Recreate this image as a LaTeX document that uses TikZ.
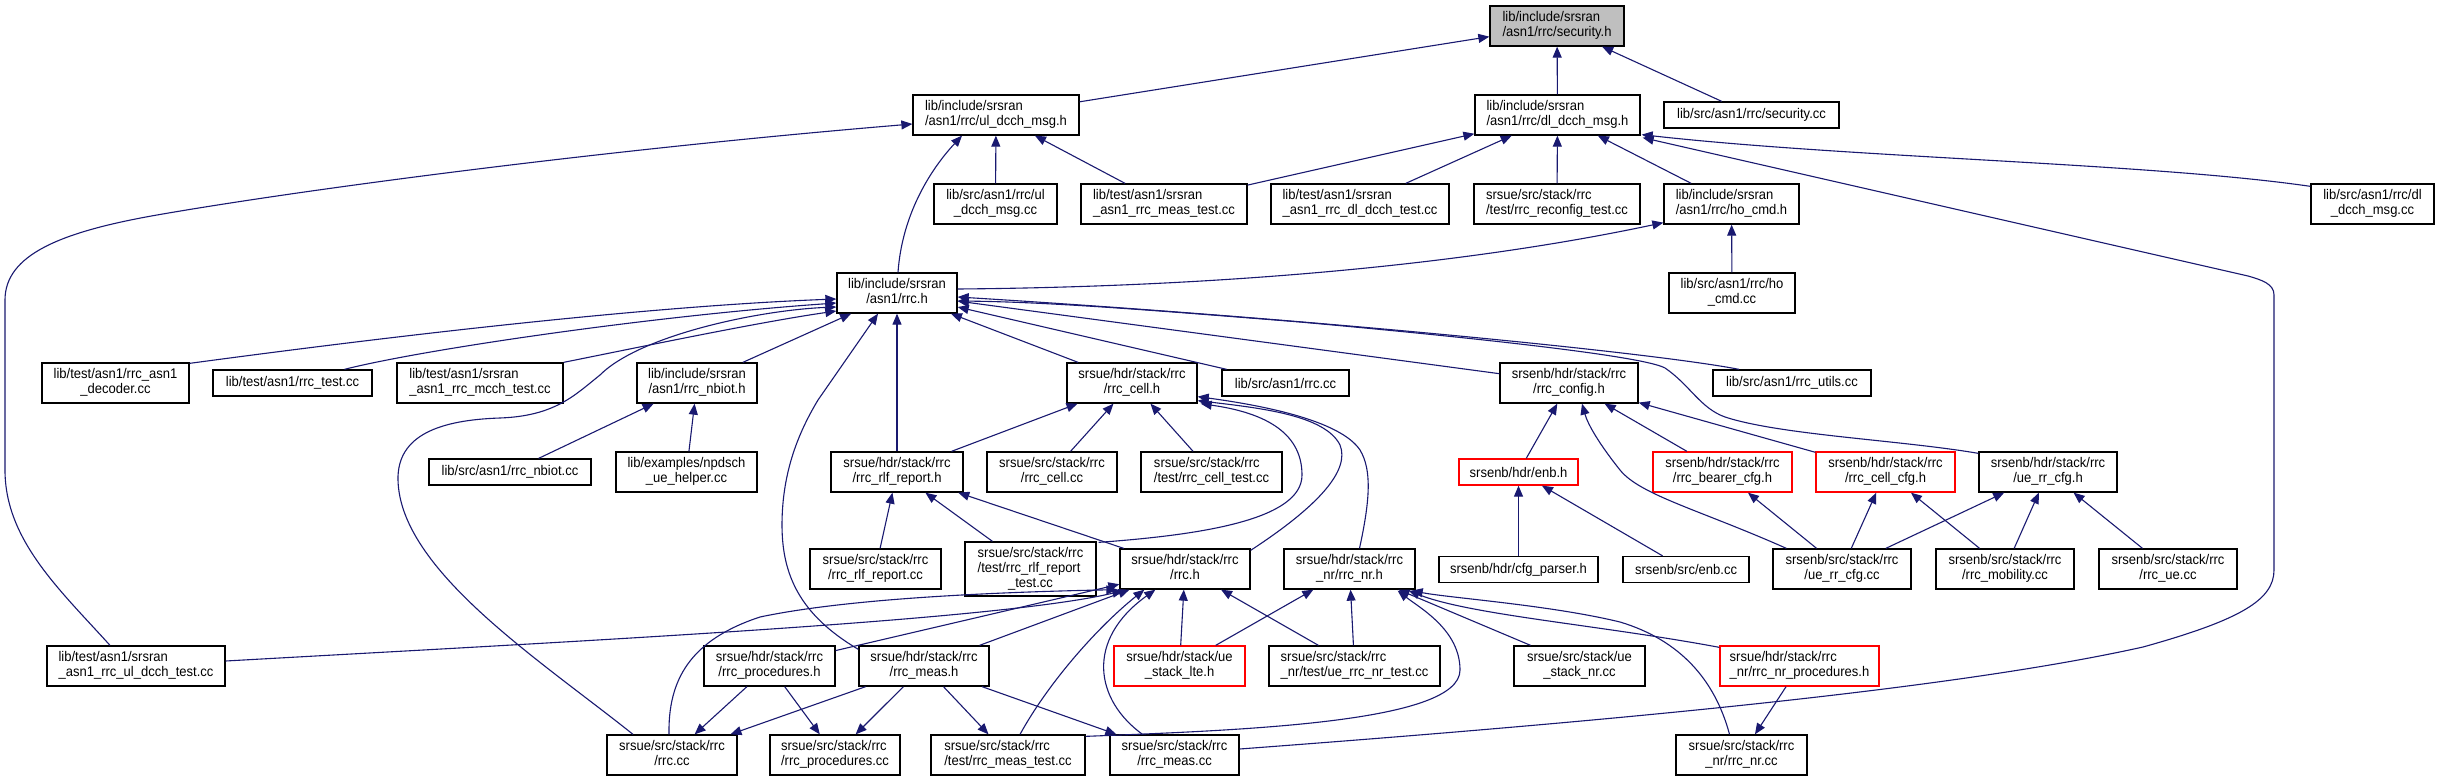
\documentclass[tikz,border=0pt]{standalone}
\usepackage{fontspec}
\setmainfont[FakeStretch=0.93]{Liberation Sans}
\usetikzlibrary{arrows.meta,calc}
\definecolor{edgec}{HTML}{191970}
\definecolor{nodegray}{HTML}{BFBFBF}
\newlength\twa
\newlength\twb
\newcommand\TwoL[2]{\settowidth\twa{#1}\settowidth\twb{#2}\ifdim\twb>\twa\twa=\twb\fi\begin{tabular}{@{}l@{}}\makebox[\twa][l]{#1}\\\makebox[\twa][c]{#2}\end{tabular}}
\newcommand\ThreeL[3]{\settowidth\twa{#1}\settowidth\twb{#2}\ifdim\twb>\twa\twa=\twb\fi\settowidth\twb{#3}\ifdim\twb>\twa\twa=\twb\fi\begin{tabular}{@{}l@{}}\makebox[\twa][l]{#1}\\\makebox[\twa][l]{#2}\\\makebox[\twa][c]{#3}\end{tabular}}
\tikzset{
  box/.style={draw=black, line width=1.3pt, fill=white, inner sep=0pt, text=black,
    font=\fontsize{14}{15}\selectfont, minimum height=40pt},
  redbox/.style={box, draw=red},
  edge/.style={draw=edgec, line width=1.1pt, -{Triangle[length=11pt,width=9pt]}}
}
\begin{document}
\begin{tikzpicture}[x=1pt,y=-1pt]
\useasboundingbox (0,0) rectangle (2440,781);
\fill[white] (0,0) rectangle (2440,781);
% nodes
\node[box,minimum width=134pt,fill=nodegray] (sec) at (1557,26) {\TwoL{lib/include/srsran}{/asn1/rrc/security.h}};
\node[box,minimum width=166pt] (uldh) at (996,115) {\TwoL{lib/include/srsran}{/asn1/rrc/ul\_dcch\_msg.h}};
\node[box,minimum width=165pt] (dldh) at (1557.5,115) {\TwoL{lib/include/srsran}{/asn1/rrc/dl\_dcch\_msg.h}};
\node[box,minimum width=175pt,minimum height=26pt] (seccc) at (1751.5,115) {lib/src/asn1/rrc/security.cc};
\node[box,minimum width=123pt] (uldcc) at (995.5,204) {\TwoL{lib/src/asn1/rrc/ul}{\_dcch\_msg.cc}};
\node[box,minimum width=166pt] (libmeas) at (1164,204) {\TwoL{lib/test/asn1/srsran}{\_asn1\_rrc\_meas\_test.cc}};
\node[box,minimum width=178pt] (dltest) at (1360,204) {\TwoL{lib/test/asn1/srsran}{\_asn1\_rrc\_dl\_dcch\_test.cc}};
\node[box,minimum width=166pt] (reconf) at (1557,204) {\TwoL{srsue/src/stack/rrc}{/test/rrc\_reconfig\_test.cc}};
\node[box,minimum width=135pt] (hoh) at (1731.5,204) {\TwoL{lib/include/srsran}{/asn1/rrc/ho\_cmd.h}};
\node[box,minimum width=123pt] (dlcc) at (2372.5,204) {\TwoL{lib/src/asn1/rrc/dl}{\_dcch\_msg.cc}};
\node[box,minimum width=126pt] (hocc) at (1732,293) {\TwoL{lib/src/asn1/rrc/ho}{\_cmd.cc}};
\node[box,minimum width=120pt] (asnrrc) at (897,293) {\TwoL{lib/include/srsran}{/asn1/rrc.h}};
\node[box,minimum width=147pt] (decoder) at (115.5,383) {\TwoL{lib/test/asn1/rrc\_asn1}{\_decoder.cc}};
\node[box,minimum width=159pt,minimum height=26pt] (rrctest) at (292.5,383) {lib/test/asn1/rrc\_test.cc};
\node[box,minimum width=166pt] (mcch) at (480,383) {\TwoL{lib/test/asn1/srsran}{\_asn1\_rrc\_mcch\_test.cc}};
\node[box,minimum width=120pt] (nbioth) at (697,383) {\TwoL{lib/include/srsran}{/asn1/rrc\_nbiot.h}};
\node[box,minimum width=130pt] (cellh) at (1132,383) {\TwoL{srsue/hdr/stack/rrc}{/rrc\_cell.h}};
\node[box,minimum width=127pt,minimum height=26pt] (librrccc) at (1285.5,383) {lib/src/asn1/rrc.cc};
\node[box,minimum width=138pt] (config) at (1569,383) {\TwoL{srsenb/hdr/stack/rrc}{/rrc\_config.h}};
\node[box,minimum width=158pt,minimum height=26pt] (utils) at (1792,383) {lib/src/asn1/rrc\_utils.cc};
\node[box,minimum width=162pt,minimum height=26pt] (nbiotcc) at (510,472) {lib/src/asn1/rrc\_nbiot.cc};
\node[box,minimum width=141pt] (npdsch) at (686.5,472) {\TwoL{lib/examples/npdsch}{\_ue\_helper.cc}};
\node[box,minimum width=132pt] (rlfh) at (897,472) {\TwoL{srsue/hdr/stack/rrc}{/rrc\_rlf\_report.h}};
\node[box,minimum width=130pt] (cellcc) at (1052,472) {\TwoL{srsue/src/stack/rrc}{/rrc\_cell.cc}};
\node[box,minimum width=141pt] (celltest) at (1211.5,472) {\TwoL{srsue/src/stack/rrc}{/test/rrc\_cell\_test.cc}};
\node[redbox,minimum width=119pt,minimum height=26pt] (enbh) at (1518.5,472) {srsenb/hdr/enb.h};
\node[redbox,minimum width=139pt] (bearer) at (1722.5,472) {\TwoL{srsenb/hdr/stack/rrc}{/rrc\_bearer\_cfg.h}};
\node[redbox,minimum width=139pt] (cellcfg) at (1885.5,472) {\TwoL{srsenb/hdr/stack/rrc}{/rrc\_cell\_cfg.h}};
\node[box,minimum width=138pt] (uerrh) at (2048,472) {\TwoL{srsenb/hdr/stack/rrc}{/ue\_rr\_cfg.h}};
\node[box,minimum width=131pt] (rlfcc) at (875.5,569) {\TwoL{srsue/src/stack/rrc}{/rrc\_rlf\_report.cc}};
\node[box,minimum width=131pt,minimum height=54pt] (rlftest) at (1030.5,569) {\ThreeL{srsue/src/stack/rrc}{/test/rrc\_rlf\_report}{\_test.cc}};
\node[box,minimum width=130pt] (ueh) at (1185,569) {\TwoL{srsue/hdr/stack/rrc}{/rrc.h}};
\node[box,minimum width=131pt] (nrh) at (1349.5,569) {\TwoL{srsue/hdr/stack/rrc}{\_nr/rrc\_nr.h}};
\node[box,minimum width=159pt,minimum height=26pt] (cfgparser) at (1518.5,569.5) {srsenb/hdr/cfg\_parser.h};
\node[box,minimum width=126pt,minimum height=26pt] (enbcc) at (1686,569.5) {srsenb/src/enb.cc};
\node[box,minimum width=138pt] (uerrcc) at (1842,569) {\TwoL{srsenb/src/stack/rrc}{/ue\_rr\_cfg.cc}};
\node[box,minimum width=138pt] (mobility) at (2005,569) {\TwoL{srsenb/src/stack/rrc}{/rrc\_mobility.cc}};
\node[box,minimum width=138pt] (rrcue) at (2168,569) {\TwoL{srsenb/src/stack/rrc}{/rrc\_ue.cc}};
\node[box,minimum width=178pt] (ultest) at (136,666) {\TwoL{lib/test/asn1/srsran}{\_asn1\_rrc\_ul\_dcch\_test.cc}};
\node[box,minimum width=131pt] (proch) at (769.5,666) {\TwoL{srsue/hdr/stack/rrc}{/rrc\_procedures.h}};
\node[box,minimum width=130pt] (measht) at (924,666) {\TwoL{srsue/hdr/stack/rrc}{/rrc\_meas.h}};
\node[redbox,minimum width=131pt] (lte) at (1179.5,666) {\TwoL{srsue/hdr/stack/ue}{\_stack\_lte.h}};
\node[box,minimum width=171pt] (nrtest) at (1354.5,666) {\TwoL{srsue/src/stack/rrc}{\_nr/test/ue\_rrc\_nr\_test.cc}};
\node[box,minimum width=131pt] (stacknr) at (1579.5,666) {\TwoL{srsue/src/stack/ue}{\_stack\_nr.cc}};
\node[redbox,minimum width=159pt] (nrproch) at (1799.5,666) {\TwoL{srsue/hdr/stack/rrc}{\_nr/rrc\_nr\_procedures.h}};
\node[box,minimum width=130pt] (uerrccc) at (672,755) {\TwoL{srsue/src/stack/rrc}{/rrc.cc}};
\node[box,minimum width=130pt] (proccc) at (835,755) {\TwoL{srsue/src/stack/rrc}{/rrc\_procedures.cc}};
\node[box,minimum width=154pt] (meastest) at (1008,755) {\TwoL{srsue/src/stack/rrc}{/test/rrc\_meas\_test.cc}};
\node[box,minimum width=129pt] (meascc) at (1174.5,755) {\TwoL{srsue/src/stack/rrc}{/rrc\_meas.cc}};
\node[box,minimum width=131pt] (nrcc) at (1741.5,755) {\TwoL{srsue/src/stack/rrc}{\_nr/rrc\_nr.cc}};
% straight edges
\foreach \a/\b in {uldh/sec, dldh/sec, seccc/sec, uldcc/uldh, libmeas/uldh, libmeas/dldh,
  dltest/dldh, reconf/dldh, hoh/dldh, hocc/hoh, nbioth/asnrrc, rlfh/asnrrc, cellh/asnrrc,
  librrccc/asnrrc, config/asnrrc, nbiotcc/nbioth, npdsch/nbioth, rlfh/cellh, cellcc/cellh,
  celltest/cellh, rlfcc/rlfh, rlftest/rlfh, ueh/rlfh, enbh/config, bearer/config,
  cellcfg/config, cfgparser/enbh, enbcc/enbh, uerrcc/bearer, uerrcc/cellcfg,
  mobility/cellcfg, uerrcc/uerrh, mobility/uerrh, rrcue/uerrh, proch/ueh, measht/ueh,
  lte/ueh, nrtest/ueh, lte/nrh, nrtest/nrh, stacknr/nrh, proch/uerrccc, proch/proccc,
  measht/uerrccc, measht/proccc, measht/meastest, measht/meascc, nrproch/nrcc}
  {\draw[edge] (\a) -- (\b);}
% curved edges
\draw[edge] ($(asnrrc.north)+(1,0)$) .. controls (902,215) and (930,170) .. ($(uldh.south)+(-34,0)$);
\draw[edge] ($(ultest.north)+(-26,0)$) .. controls (60,590) and (5,540) .. (5,470) -- (5,300)
  .. controls (5,255) and (60,232) .. (157,215) .. controls (300,190) and (600,150) .. ($(uldh.west)+(0,9)$);
\draw[edge] ($(dlcc.north west)+(0,3)$) .. controls (2150,163) and (1850,158) .. ($(dldh.south east)+(1,-1)$);
\draw[edge] ($(meascc.east)+(0,-6)$) .. controls (1600,722) and (1950,690) .. (2143,647)
  .. controls (2240,620) and (2274,600) .. (2274,570) -- (2274,295)
  .. controls (2274,284) and (2262,280) .. (2248,276) -- ($(dldh.south east)+(2,2)$);
\draw[edge] ($(asnrrc.east)+(0,-4)$) .. controls (1200,287) and (1450,268) .. ($(hoh.south west)+(0,-2)$);
\draw[edge] ($(decoder.north east)+(0,1)$) .. controls (400,335) and (650,306) .. ($(asnrrc.west)+(0,6)$);
\draw[edge] ($(rrctest.north)+(52,0)$) .. controls (420,350) and (650,316) .. ($(asnrrc.west)+(0,10)$);
\draw[edge] (mcch.north east) .. controls (650,345) and (760,322) .. ($(asnrrc.west)+(0,18)$);
\draw[edge] ($(uerrccc.north)+(-39,0)$) .. controls (540,660) and (400,570) .. (398,480)
  .. controls (397,435) and (440,420) .. (500,418) .. controls (555,416) and (575,395) .. (600,375)
  .. controls (640,335) and (760,310) .. ($(asnrrc.west)+(0,14)$);
\draw[edge] ($(measht.north west)+(0,4)$) .. controls (800,615) and (782,575) .. (782,525)
  .. controls (782,470) and (800,430) .. (818,400) -- ($(asnrrc.south)+(-19,0)$);
\draw[edge] ($(utils.north)+(-53,0)$) .. controls (1650,352) and (1300,318) .. ($(asnrrc.east)+(0,4)$);
\draw[edge] ($(uerrh.north west)+(0,2)$) .. controls (1900,440) and (1780,435) .. (1725,417)
  .. controls (1700,408) and (1690,385) .. (1665,368) .. controls (1645,357) and (1500,340) .. (1300,322)
  .. controls (1150,310) and (1050,302) .. ($(asnrrc.east)+(0,8)$);
\draw[edge] ($(rlftest.north east)+(2,1)$) .. controls (1200,535) and (1302,520) .. (1302,475)
  .. controls (1302,430) and (1260,412) .. ($(cellh.south east)+(3,0)$);
\draw[edge] ($(ueh.north east)+(0,2)$) .. controls (1320,505) and (1350,470) .. (1340,445)
  .. controls (1325,415) and (1260,408) .. ($(cellh.south east)+(0,-3)$);
\draw[edge] ($(nrh.north)+(10,0)$) .. controls (1370,500) and (1372,470) .. (1360,450)
  .. controls (1340,420) and (1260,405) .. ($(cellh.south east)+(0,-7)$);
\draw[edge] ($(uerrcc.north west)+(14,0)$) .. controls (1700,510) and (1640,495) .. (1620,470)
  .. controls (1600,445) and (1588,425) .. ($(config.south)+(13,0)$);
\draw[edge] ($(ultest.east)+(0,-5)$) .. controls (600,640) and (1000,620) .. ($(ueh.south west)+(4,1)$);
\draw[edge] ($(uerrccc.north)+(-3,0)$) .. controls (668,680) and (690,640) .. (760,617)
  .. controls (850,598) and (1000,592) .. ($(ueh.south west)+(-2,0)$);
\draw[edge] ($(meastest.north)+(12,0)$) .. controls (1050,680) and (1100,625) .. ($(ueh.south west)+(25,0)$);
\draw[edge] ($(meascc.north)+(-32,0)$) .. controls (1095,700) and (1085,640) .. ($(ueh.south west)+(36,0)$);
\draw[edge] ($(nrproch.north west)+(0,2)$) .. controls (1600,625) and (1470,615) .. ($(nrh.south east)+(-7,1)$);
\draw[edge] ($(nrcc.north)+(-12,0)$) .. controls (1715,680) and (1680,640) .. (1620,622)
  .. controls (1550,605) and (1450,598) .. ($(nrh.south east)+(-4,1)$);
\draw[edge] ($(meastest.north east)+(0,2)$) .. controls (1250,730) and (1460,722) .. (1460,670)
  .. controls (1460,630) and (1420,608) .. ($(nrh.south east)+(-18,1)$);
\end{tikzpicture}
\end{document}
